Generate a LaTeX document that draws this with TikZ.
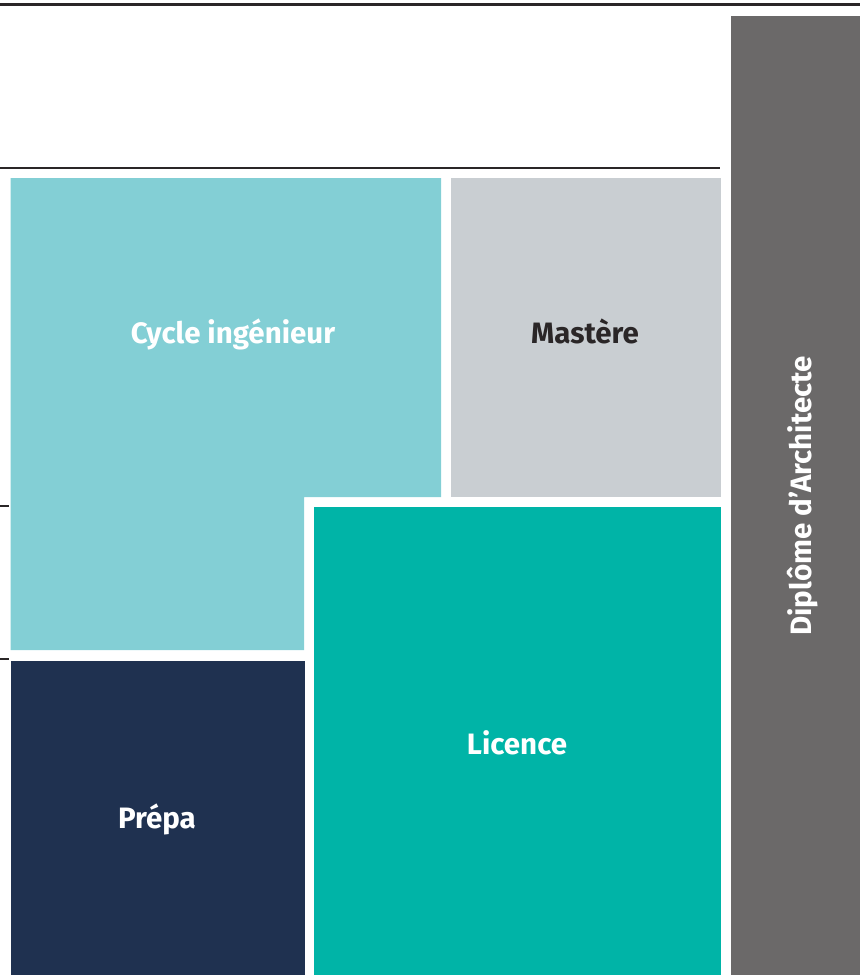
\documentclass[tikz,border=0pt]{standalone}
\usepackage{fontspec}
\setmainfont{Fira Sans}
\definecolor{cyclec}{HTML}{83CFD5}
\definecolor{mastc}{HTML}{C9CED2}
\definecolor{licc}{HTML}{00B4A7}
\definecolor{prepc}{HTML}{1F3150}
\definecolor{diplc}{HTML}{6B6969}
\definecolor{rulec}{HTML}{2A2627}
\begin{document}
\begin{tikzpicture}[x=1pt,y=-1pt,
  rule/.style={draw=rulec,line width=2.2pt},
  lbl/.style={font=\fontsize{29.5}{32}\selectfont\bfseries,inner sep=0pt},
  blk/.style={inner sep=0pt,outer sep=0pt,anchor=north west}]
\useasboundingbox (0,0) rectangle (860,975);
% rules
\coordinate (t0) at (0,4.5); \coordinate (t1) at (860,4.5);
\draw[rule] (t0) -- (t1);
\coordinate (m0) at (0,168); \coordinate (m1) at (720,168);
\draw[rule,line width=2pt] (m0) -- (m1);
\coordinate (a0) at (0,506); \coordinate (a1) at (9,506);
\draw[rule,line width=2pt] (a0) -- (a1);
\coordinate (b0) at (0,659); \coordinate (b1) at (9,659);
\draw[rule,line width=2pt] (b0) -- (b1);
% Cycle ingenieur (L shape)
\fill[cyclec] (10.5,178) -- (441,178) -- (441,497) -- (304,497) -- (304,650) -- (10.5,650) -- cycle;
\node[lbl,text=white] (cycle) at (233,334) {Cycle ingénieur};
% Mastere
\node[blk,fill=mastc,minimum width=270pt,minimum height=318.5pt] (mast) at (451,178) {};
\node[lbl,text=rulec] (mastt) at (585,331) {Mastère};
% Licence
\node[blk,fill=licc,minimum width=407pt,minimum height=468pt] (lic) at (314,507) {};
\node[lbl,text=white] (lict) at (517,743) {Licence};
% Prepa
\node[blk,fill=prepc,minimum width=294pt,minimum height=314pt] (prep) at (10.5,661) {};
\node[lbl,text=white] (prept) at (157,819) {Prépa};
% Diplome
\node[blk,fill=diplc,minimum width=129pt,minimum height=959pt] (dipl) at (731,16) {};
\node[lbl,text=white,rotate=90] (diplt) at (803,496) {Diplôme d’Architecte};
\end{tikzpicture}
\end{document}
